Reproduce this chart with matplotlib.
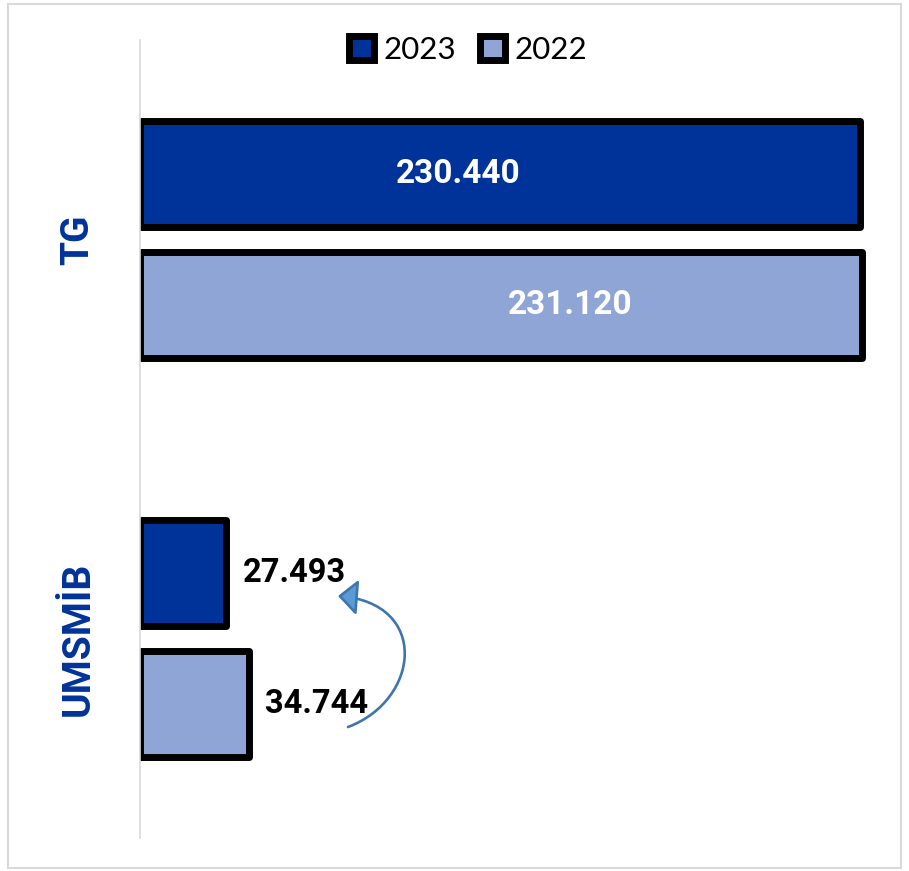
import matplotlib
matplotlib.use("Agg")
import matplotlib.pyplot as plt
from matplotlib.patches import Rectangle, FancyArrowPatch, Patch
from matplotlib.path import Path
import numpy as np

categories = ["TG", "UMSMİB"]
series_names = ["2023", "2022"]
values_2023 = [230440, 27493]
values_2022 = [231120, 34744]
labels_2023 = ["230.440", "27.493"]
labels_2022 = ["231.120", "34.744"]

C2023 = "#003399"
C2022 = "#8FA5D6"
CAT = "#003399"
BOLD = ['Roboto', 'DejaVu Sans']

plt.rcParams['font.family'] = ['Lato', 'DejaVu Sans']

W, H = 909, 871
fig = plt.figure(figsize=(W / 100, H / 100), dpi=100)
ax = fig.add_axes([140 / W, 1 - 838 / H, (877 - 140) / W, (838 - 40) / H])

y = np.arange(len(categories))
bh = 0.266
off = 0.165
lw = 5
ax.barh(y - off, values_2023, height=bh, color=C2023, edgecolor="black",
        linewidth=lw, joinstyle="round", label=series_names[0])
ax.barh(y + off, values_2022, height=bh, color=C2022, edgecolor="black",
        linewidth=lw, joinstyle="round", label=series_names[1])

ax.set_xlim(0, 236000)
ax.set_ylim(1.5, -0.5)
ax.set_xticks([])
ax.set_yticks([])
for s in ["top", "right", "bottom"]:
    ax.spines[s].set_visible(False)
ax.spines["left"].set_color("#D9D9D9")
ax.spines["left"].set_linewidth(1.2)

# TG labels inside bars (white)
ax.text(101850, y[0] - off, labels_2023[0], color="white", fontsize=24,
        fontweight="bold", family=BOLD, ha="center", va="center")
ax.text(137700, y[0] + off, labels_2022[0], color="white", fontsize=24,
        fontweight="bold", family=BOLD, ha="center", va="center")
# UMSMİB labels outside bars
ax.annotate(labels_2023[1], (values_2023[1], y[1] - off), xytext=(12, 0),
            textcoords="offset points", ha="left", va="center",
            fontsize=23.5, fontweight="bold", family=BOLD, color="black")
ax.annotate(labels_2022[1], (values_2022[1], y[1] + off), xytext=(12, 0),
            textcoords="offset points", ha="left", va="center",
            fontsize=23.5, fontweight="bold", family=BOLD, color="black")

# category labels
for yi, cat in zip(y, categories):
    ax.annotate(cat, (0, yi), xytext=(-62, 0), textcoords="offset pixels",
                ha="center", va="center", rotation=90, fontsize=28,
                fontweight="bold", family=BOLD, color=CAT)

# legend
handles = [Patch(facecolor=C2023, edgecolor="black", linewidth=lw, joinstyle="round"),
           Patch(facecolor=C2022, edgecolor="black", linewidth=lw, joinstyle="round")]
fig.legend(handles, series_names, loc="center", bbox_to_anchor=(468 / W, 1 - 50 / H),
           ncol=2, frameon=False, fontsize=22.5, handlelength=0.8, handleheight=0.8,
           handletextpad=0.3, columnspacing=0.75, borderaxespad=0)

# curved arrow (cubic path in image pixel coords -> figure fraction)
pts_px = [(348, 727), (420, 700), (430, 603), (338, 596)]
pts = [(px / W, 1 - py / H) for px, py in pts_px]
arrow_path = Path(pts, [Path.MOVETO, Path.CURVE4, Path.CURVE4, Path.CURVE4])
arrow = FancyArrowPatch(path=arrow_path, transform=fig.transFigure,
                        arrowstyle="-|>,head_length=12,head_width=11",
                        mutation_scale=1,
                        edgecolor="#3F75AF", facecolor="#5B9BD5", linewidth=1.9)
fig.add_artist(arrow)

# outer border
fig.add_artist(Rectangle((8 / W, 1 - 868 / H), (901 - 8) / W, (868 - 4) / H,
                         transform=fig.transFigure, fill=False,
                         edgecolor="#D9D9D9", linewidth=1.5))

fig.savefig("out.png", dpi=100)
